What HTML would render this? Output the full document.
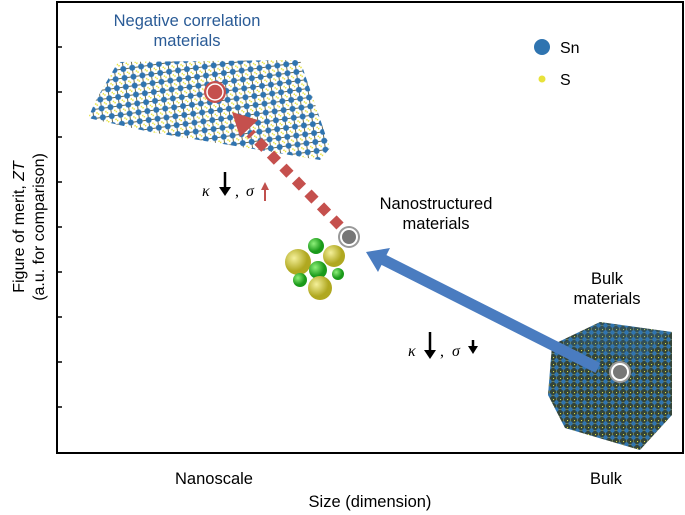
<!DOCTYPE html>
<html><head><meta charset="utf-8"><style>
body{margin:0;background:#fff;}
svg{display:block;font-family:"Liberation Sans",sans-serif;}
</style></head><body>
<svg width="685" height="515" viewBox="0 0 685 515">
<defs>
<pattern id="lat" width="9" height="9" patternUnits="userSpaceOnUse" patternTransform="rotate(-8)">
<path d="M0 4.5H9M4.5 0V9" stroke="#6a6a50" stroke-width="1"/>
<circle cx="4.5" cy="4.5" r="3" fill="#2f74b0"/>
<circle cx="0" cy="0" r="1.6" fill="#e8e23a"/>
<circle cx="9" cy="9" r="1.6" fill="#e8e23a"/>
</pattern>
<pattern id="lat2" width="7" height="7" patternUnits="userSpaceOnUse">
<rect width="7" height="7" fill="#34453a"/>
<path d="M0 3.5H7M3.5 0V7" stroke="#7a8a60" stroke-width="0.8"/>
<circle cx="3.5" cy="3.5" r="2.2" fill="#2f74b0"/>
<circle cx="0" cy="0" r="1.2" fill="#e0e040"/>
</pattern>
<radialGradient id="gy" cx="35%" cy="35%"><stop offset="0" stop-color="#f4f09a"/><stop offset="1" stop-color="#b0a820"/></radialGradient>
<radialGradient id="gg" cx="35%" cy="35%"><stop offset="0" stop-color="#8ef07a"/><stop offset="1" stop-color="#1a9a1a"/></radialGradient>
</defs>
<path d="M57 2H683V453H57Z" fill="none" stroke="#000" stroke-width="2"/>
<g stroke="#000" stroke-width="1.5">
<path d="M57 47h5M57 92h5M57 137h5M57 182h5M57 227h5M57 272h5M57 317h5M57 362h5M57 407h5"/>
</g>
<polygon points="118,62 300,60 330,148 320,160 150,132 88,118 96,100" fill="url(#lat)"/>
<polygon points="552,345 600,322 672,332 672,415 640,450 565,428 548,395" fill="url(#lat2)"/>
<polygon points="600,322 672,332 640,360 560,345" fill="#2f74b0" opacity="0.25"/>
<circle cx="542" cy="47" r="8" fill="#2f74b0"/>
<text x="560" y="53" font-size="16">Sn</text>
<circle cx="542" cy="79" r="3.5" fill="#e8e23a"/>
<text x="560" y="85" font-size="16">S</text>
<text x="187" y="26" font-size="16.5" fill="#2a5b96" text-anchor="middle">Negative correlation</text>
<text x="187" y="46" font-size="16.5" fill="#2a5b96" text-anchor="middle">materials</text>
<text x="436" y="209" font-size="16.5" text-anchor="middle">Nanostructured</text>
<text x="436" y="229" font-size="16.5" text-anchor="middle">materials</text>
<text x="607" y="284" font-size="16.5" text-anchor="middle">Bulk</text>
<text x="607" y="304" font-size="16.5" text-anchor="middle">materials</text>
<text x="214" y="484" font-size="16.5" text-anchor="middle">Nanoscale</text>
<text x="606" y="484" font-size="16.5" text-anchor="middle">Bulk</text>
<text x="370" y="507" font-size="16.5" text-anchor="middle">Size (dimension)</text>
<text transform="translate(24,227) rotate(-90)" font-size="16" text-anchor="middle">Figure of merit, <tspan font-style="italic">ZT</tspan></text>
<text transform="translate(44,227) rotate(-90)" font-size="16" text-anchor="middle">(a.u. for comparison)</text>
<text x="202" y="196" font-size="16" font-family="Liberation Serif,serif" font-style="italic">κ</text>
<path d="M225 172v18" stroke="#000" stroke-width="2.5"/><path d="M219 187l6 9 6-9z"/>
<text x="235" y="196" font-size="16" font-family="Liberation Serif,serif">,</text>
<text x="246" y="196" font-size="16" font-family="Liberation Serif,serif" font-style="italic">σ</text>
<path d="M265 201v-14" stroke="#c0504d" stroke-width="2"/><path d="M261 190l4-8 4 8z" fill="#c0504d"/>
<text x="408" y="356" font-size="16" font-family="Liberation Serif,serif" font-style="italic">κ</text>
<path d="M430 332v20" stroke="#000" stroke-width="2.5"/><path d="M424 350l6 9 6-9z"/>
<text x="440" y="356" font-size="16" font-family="Liberation Serif,serif">,</text>
<text x="452" y="356" font-size="16" font-family="Liberation Serif,serif" font-style="italic">σ</text>
<path d="M473 340v8" stroke="#000" stroke-width="2.5"/><path d="M468 346l5 8 5-8z"/>
<path d="M598 368L380 258" stroke="#4a7cc0" stroke-width="11"/>
<polygon points="366,252 390,248 378,272" fill="#4a7cc0"/>
<path d="M340 226L250 133" stroke="#c5504d" stroke-width="10" stroke-dasharray="10 8"/>
<polygon points="232,112 258,120 240,137" fill="#c5504d"/>
<circle cx="316" cy="246" r="8" fill="url(#gg)"/>
<circle cx="298" cy="262" r="13" fill="url(#gy)"/>
<circle cx="334" cy="256" r="11" fill="url(#gy)"/>
<circle cx="318" cy="270" r="9" fill="url(#gg)"/>
<circle cx="300" cy="280" r="7" fill="url(#gg)"/>
<circle cx="320" cy="288" r="12" fill="url(#gy)"/>
<circle cx="338" cy="274" r="6" fill="url(#gg)"/>
<circle cx="215" cy="92" r="11" fill="#c5504d"/><circle cx="215" cy="92" r="8" fill="none" stroke="#fff" stroke-width="1.5"/>
<circle cx="349" cy="237" r="11" fill="#999"/><circle cx="349" cy="237" r="8" fill="#777" stroke="#fff" stroke-width="2"/>
<circle cx="620" cy="372" r="11" fill="#999"/><circle cx="620" cy="372" r="8" fill="#777" stroke="#fff" stroke-width="2"/>
</svg>
</body></html>
